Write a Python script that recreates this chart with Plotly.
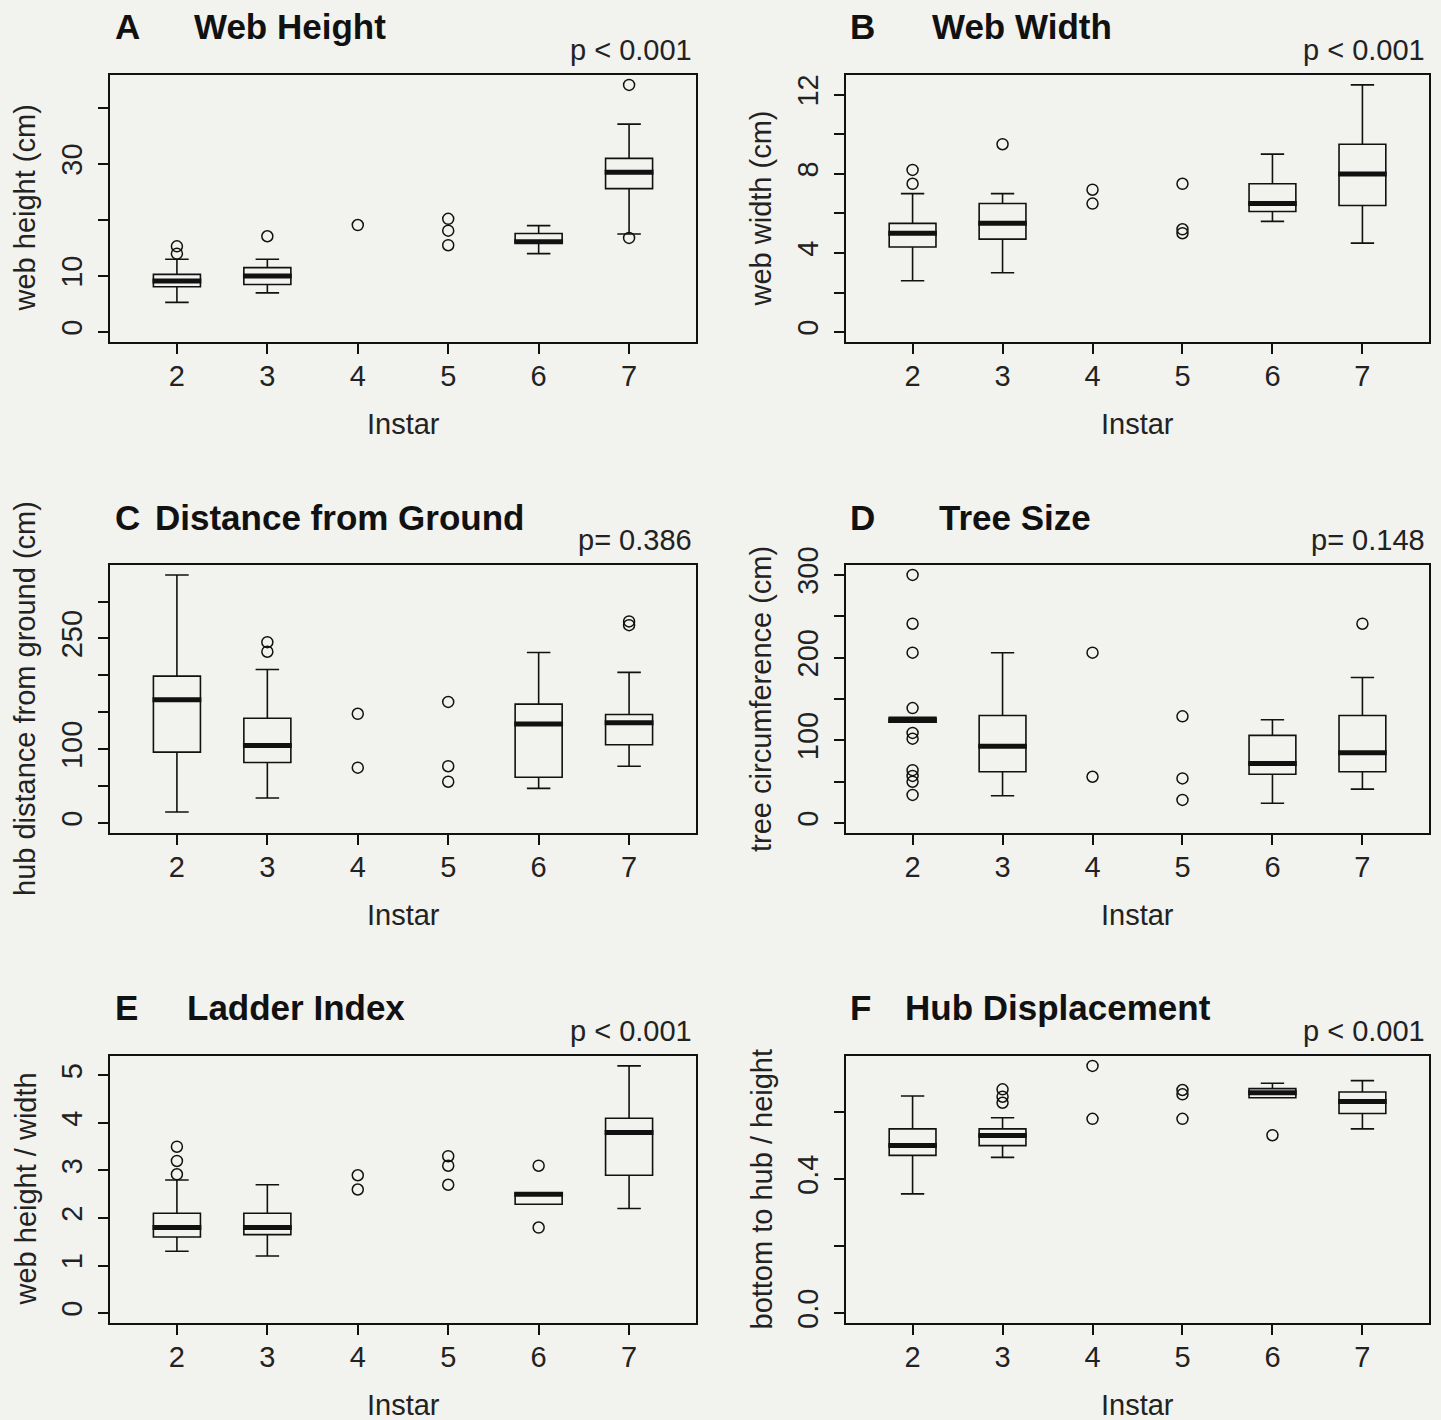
import plotly.graph_objects as go

# ---------------- data ----------------
instars = [2, 3, 4, 5, 6, 7]
box_x = [2, 3, 6, 7]

# A  Web Height
a_low = [5.3, 7.0, 14.0, 17.5]
a_q1 = [8.1, 8.5, 16.0, 25.6]
a_med = [9.1, 10.0, 16.1, 28.5]
a_q3 = [10.3, 11.5, 17.6, 31.0]
a_high = [13.0, 13.0, 19.0, 37.1]
a_out_x = [2, 2, 3, 4, 5, 5, 5, 7, 7]
a_out_y = [14.0, 15.3, 17.1, 19.1, 20.2, 18.1, 15.5, 16.8, 44.1]
a_ticks = [0, 10, 20, 30, 40]
a_ticktext = ["0", "10", "", "30", ""]

# B  Web Width
b_low = [2.6, 3.0, 5.6, 4.5]
b_q1 = [4.3, 4.7, 6.1, 6.4]
b_med = [5.0, 5.5, 6.5, 8.0]
b_q3 = [5.5, 6.5, 7.5, 9.5]
b_high = [7.0, 7.0, 9.0, 12.5]
b_out_x = [2, 2, 3, 4, 4, 5, 5, 5]
b_out_y = [7.5, 8.2, 9.5, 7.2, 6.5, 7.5, 5.2, 5.0]
b_ticks = [0, 2, 4, 6, 8, 10, 12]
b_ticktext = ["0", "", "4", "", "8", "", "12"]

# C  Distance from Ground
c_low = [15, 34, 47, 77]
c_q1 = [96, 82, 62, 106]
c_med = [167, 105, 134, 136]
c_q3 = [199, 142, 161, 147]
c_high = [336, 208, 231, 204]
c_out_x = [3, 3, 4, 4, 5, 5, 5, 7, 7]
c_out_y = [232, 245, 148, 75, 164, 77, 56, 268, 273]
c_ticks = [0, 50, 100, 150, 200, 250, 300]
c_ticktext = ["0", "", "100", "", "", "250", ""]

# D  Tree Size
d_low = [122, 33, 24, 41]
d_q1 = [122, 62, 59, 62]
d_med = [124, 93, 72, 85]
d_q3 = [128, 130, 106, 130]
d_high = [128, 206, 125, 176]
d_out_x = [2, 2, 2, 2, 2, 2, 2, 2, 2, 2, 4, 4, 5, 5, 5, 7]
d_out_y = [300, 241, 206, 139, 109, 102, 64, 57, 50, 34, 206, 56, 129, 54, 28, 241]
d_ticks = [0, 50, 100, 150, 200, 250, 300]
d_ticktext = ["0", "", "100", "", "200", "", "300"]

# E  Ladder Index
e_low = [1.3, 1.2, 2.29, 2.2]
e_q1 = [1.6, 1.65, 2.29, 2.9]
e_med = [1.8, 1.8, 2.5, 3.8]
e_q3 = [2.1, 2.1, 2.52, 4.1]
e_high = [2.8, 2.7, 2.52, 5.2]
e_out_x = [2, 2, 2, 4, 4, 5, 5, 5, 6, 6]
e_out_y = [2.92, 3.2, 3.5, 2.9, 2.6, 3.3, 3.1, 2.7, 3.1, 1.8]
e_ticks = [0, 1, 2, 3, 4, 5]
e_ticktext = ["0", "1", "2", "3", "4", "5"]

# F  Hub Displacement
f_low = [0.356, 0.465, 0.643, 0.550]
f_q1 = [0.471, 0.500, 0.643, 0.596]
f_med = [0.500, 0.530, 0.658, 0.632]
f_q3 = [0.550, 0.550, 0.670, 0.660]
f_high = [0.648, 0.583, 0.686, 0.694]
f_out_x = [3, 3, 3, 4, 4, 5, 5, 5, 6]
f_out_y = [0.628, 0.646, 0.668, 0.738, 0.580, 0.666, 0.653, 0.580, 0.531]
f_ticks = [0, 0.2, 0.4, 0.6]
f_ticktext = ["0.0", "", "0.4", ""]

letters = ["A", "B", "C", "D", "E", "F"]
titles = ["Web Height", "Web Width", "Distance from Ground", "Tree Size",
          "Ladder Index", "Hub Displacement"]
pvals = ["p < 0.001", "p < 0.001", "p= 0.386", "p= 0.148", "p < 0.001", "p < 0.001"]
ylabels = ["web height (cm)", "web width (cm)", "hub distance from ground (cm)",
           "tree circumference (cm)", "web height / width", "bottom to hub / height"]
xlabel = "Instar"

panels = [
    (a_low, a_q1, a_med, a_q3, a_high, a_out_x, a_out_y, a_ticks, a_ticktext),
    (b_low, b_q1, b_med, b_q3, b_high, b_out_x, b_out_y, b_ticks, b_ticktext),
    (c_low, c_q1, c_med, c_q3, c_high, c_out_x, c_out_y, c_ticks, c_ticktext),
    (d_low, d_q1, d_med, d_q3, d_high, d_out_x, d_out_y, d_ticks, d_ticktext),
    (e_low, e_q1, e_med, e_q3, e_high, e_out_x, e_out_y, e_ticks, e_ticktext),
    (f_low, f_q1, f_med, f_q3, f_high, f_out_x, f_out_y, f_ticks, f_ticktext),
]

# ---------------- layout geometry (pixels) ----------------
W, H = 1441, 1420
col_px = [(110, 696), (846, 1429)]
row_px = [(75, 342), (565, 833), (1056, 1323)]

FONT = "Liberation Sans, Arial, Helvetica, sans-serif"
BG = "#f2f2ee"
INK = "#111111"
BOXW = 0.52

fig = go.Figure()
layout = dict(
    width=W, height=H,
    margin=dict(l=0, r=0, t=0, b=0, pad=0),
    paper_bgcolor=BG, plot_bgcolor=BG,
    showlegend=False,
    font=dict(family=FONT, size=29, color=INK),
)
annotations = []

for i, (lo, q1, med, q3, hi, ox, oy, tv, tt) in enumerate(panels):
    r, c = divmod(i, 2)
    x0, x1 = col_px[c]
    y0, y1 = row_px[r]
    xa = "x" if i == 0 else f"x{i+1}"
    ya = "y" if i == 0 else f"y{i+1}"
    xkey = "xaxis" if i == 0 else f"xaxis{i+1}"
    ykey = "yaxis" if i == 0 else f"yaxis{i+1}"

    ymax = max(max(hi), max(oy))
    pad = 0.04 * ymax

    fig.add_trace(go.Box(
        x=box_x, q1=q1, median=med, q3=q3, lowerfence=lo, upperfence=hi,
        width=BOXW, whiskerwidth=0.5, boxpoints=False,
        line=dict(color=INK, width=1.6), fillcolor="rgba(0,0,0,0)",
        xaxis=xa, yaxis=ya, hoverinfo="skip",
    ))
    # thick median bars
    mx, my = [], []
    for xv, mv in zip(box_x, med):
        mx += [xv - BOXW / 2 - 0.01, xv + BOXW / 2 + 0.01, None]
        my += [mv, mv, None]
    fig.add_trace(go.Scatter(
        x=mx, y=my, mode="lines", line=dict(color=INK, width=5),
        xaxis=xa, yaxis=ya, hoverinfo="skip",
    ))
    # outliers / individual points
    fig.add_trace(go.Scatter(
        x=ox, y=oy, mode="markers",
        marker=dict(symbol="circle-open", size=11, color=INK, line=dict(width=1.5)),
        xaxis=xa, yaxis=ya, hoverinfo="skip",
    ))

    common = dict(showgrid=False, zeroline=False, showline=True, mirror=True,
                  linecolor=INK, linewidth=1.8, ticks="outside", ticklen=10,
                  tickwidth=1.5, tickcolor=INK, automargin=False,
                  tickfont=dict(family=FONT, size=29, color="#222"))
    layout[xkey] = dict(
        domain=[x0 / W, x1 / W], anchor=ya, range=[1.26, 7.74],
        tickmode="array", tickvals=instars, ticktext=[str(v) for v in instars],
        ticklabelstandoff=-3, **common)
    layout[ykey] = dict(
        domain=[1 - y1 / H, 1 - y0 / H], anchor=xa, range=[-pad, ymax + pad],
        tickmode="array", tickvals=tv, ticktext=tt, tickangle=-90,
        ticklabelstandoff=5, **common)

    # titles
    ty = 27 if r == 0 else (517 if r == 1 else 1007)
    tx_letter = 113 if c == 0 else 848
    title_x = [192, 930, 153, 937, 185, 903][i]
    annotations.append(dict(text=f"<b>{letters[i]}</b>", x=tx_letter / W, y=1 - ty / H,
                            xref="paper", yref="paper", xanchor="left", yanchor="middle",
                            showarrow=False, font=dict(size=35, color=INK, family=FONT)))
    annotations.append(dict(text=f"<b>{titles[i]}</b>", x=title_x / W, y=1 - ty / H,
                            xref="paper", yref="paper", xanchor="left", yanchor="middle",
                            showarrow=False, font=dict(size=35, color=INK, family=FONT)))
    py = y0 - 25
    annotations.append(dict(text=pvals[i], x=(x1 - 2) / W, y=1 - py / H,
                            xref="paper", yref="paper", xanchor="right", yanchor="middle",
                            showarrow=False, font=dict(size=29, color="#222", family=FONT)))
    annotations.append(dict(text=xlabel, x=(x0 + x1) / 2 / W, y=1 - (y1 + 82) / H,
                            xref="paper", yref="paper", xanchor="center", yanchor="middle",
                            showarrow=False, font=dict(size=29, color="#222", family=FONT)))
    annotations.append(dict(text=ylabels[i], x=(x0 - 85) / W, y=1 - (y0 + y1) / 2 / H,
                            xref="paper", yref="paper", xanchor="center", yanchor="middle",
                            textangle=-90, showarrow=False,
                            font=dict(size=29, color="#222", family=FONT)))

layout["annotations"] = annotations
fig.update_layout(**layout)
fig.write_html(
    "out.html",
    config={"displayModeBar": False},
    post_script="document.body.style.margin='0';document.body.style.background='%s';" % BG,
)
